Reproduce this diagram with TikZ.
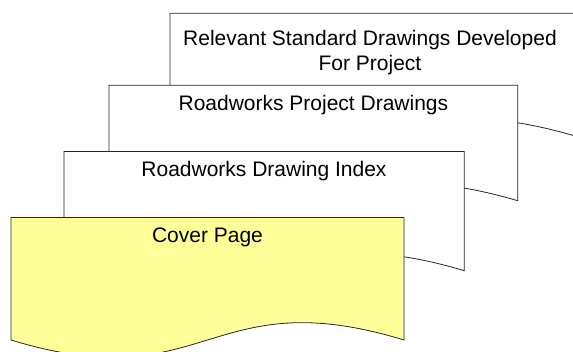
\documentclass[tikz,border=0pt]{standalone}
\usepackage{fontspec}
\setmainfont{Liberation Sans}
\usepackage{tikz}
\usetikzlibrary{calc}
\usetikzlibrary{positioning}
\definecolor{coveryellow}{RGB}{255,255,153}
\tikzset{docpage/.style={draw=black!85,line width=0.8pt,line join=miter}}
\tikzset{doctext/.style={inner sep=0pt,anchor=base,align=center,font=\fontsize{21}{25}\selectfont}}

\begin{document}
\begin{tikzpicture}[x=1pt,y=1pt]

\useasboundingbox (0,0) rectangle (573,351);
\clip (0,0) rectangle (573,351);

% left/top/width/corner depth/fill, back page first
\foreach \lx/\tp/\dw/\dc/\col in {170/13.3/406/123/white, 109/85.3/408.7/115.4/white,
  64/151.5/400.3/119.2/white, 11/217.5/393/122.5/coveryellow}
 {
 \pgfmathsetmacro{\ty}{351-\tp}
 \pgfmathsetmacro{\rx}{\lx+\dw}
 \pgfmathsetmacro{\mx}{\lx+\dw/2}
 \pgfmathsetmacro{\by}{\ty-\dc}
 \draw[docpage,fill=\col] (\lx,\ty) -- (\rx,\ty) -- (\rx,\by)
   .. controls (\mx,\by+60) and (\mx,\by-60) .. (\lx,\by) -- cycle;
 }

\node[doctext] (standard) at (370,280) {Relevant Standard Drawings Developed\\For Project};
\node[doctext] (project) at (313.4,240.3) {Roadworks Project Drawings};
\node[doctext] (index) at (264,174.3) {Roadworks Drawing Index};
\node[doctext] (cover) at (207.5,108.3) {Cover Page};

\end{tikzpicture}
\end{document}
